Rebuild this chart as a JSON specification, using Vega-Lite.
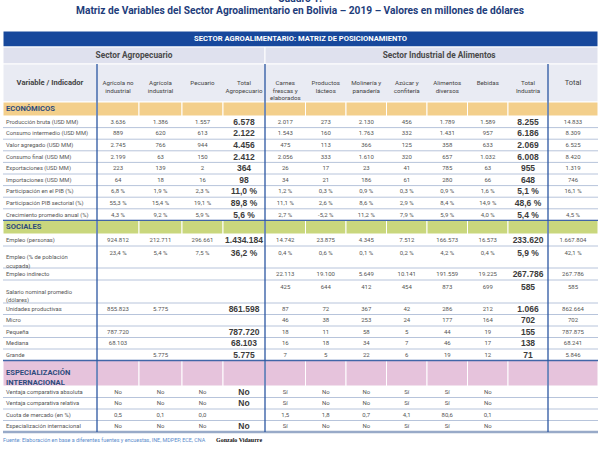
{
"$schema":"https://vega.github.io/schema/vega-lite/v6.json",
"width":600,"height":420,
"autosize":{"type":"none"},
"padding":{"top":31,"left":0,"right":0,"bottom":0},
"background":"white",
"config":{"view":{"stroke":null},"font":"Roboto"},
"title":{"text":["Cuadro 1.","Matriz de Variables del Sector Agroalimentario en Bolivia – 2019 – Valores en millones de dólares"],"anchor":"middle","frame":"group","baseline":"bottom","offset":4,"font":"Roboto","fontSize":10.2,"fontWeight":"bold","color":"#1e3d7b","lineHeight":12},
"datasets":{
"cols":[
{"key":"label","ci":0,"head":"Variable / Indicador"},
{"key":"a1","ci":1,"head":"Agrícola no\nindustrial"},
{"key":"a2","ci":2,"head":"Agrícola\nindustrial"},
{"key":"a3","ci":3,"head":"Pecuario"},
{"key":"a4","ci":4,"head":"Total\nAgropecuario"},
{"key":"i1","ci":5,"head":"Carnes\nfrescas y\nelaborados"},
{"key":"i2","ci":6,"head":"Productos\nlácteos"},
{"key":"i3","ci":7,"head":"Molinería y\npanadería"},
{"key":"i4","ci":8,"head":"Azúcar y\nconfitería"},
{"key":"i5","ci":9,"head":"Alimentos\ndiversos"},
{"key":"i6","ci":10,"head":"Bebidas"},
{"key":"i7","ci":11,"head":"Total\nIndustria"},
{"key":"t","ci":12,"head":"Total"}
],
"bands":[
{"kind":"top","xa":0,"xb":13,"ya":0,"yb":1,"label":"SECTOR AGROALIMENTARIO: MATRIZ DE POSICIONAMIENTO"},
{"kind":"sec","xa":0,"xb":5,"ya":1,"yb":2,"label":"Sector Agropecuario"},
{"kind":"sec","xa":5,"xb":13,"ya":1,"yb":2,"label":"Sector Industrial de Alimentos"},
{"kind":"head","xa":0,"xb":13,"ya":2,"yb":3,"label":""}
],
"notes":[
{"kind":"src","t":"Fuente: Elaboración en base a diferentes fuentes y encuestas, INE, MDPEP, ECE, CNA"},
{"kind":"auth","t":"Gonzalo Vidaurre"}
],
"table":[
{"r":3,"kind":"eco","label":"ECONÓMICOS"},
{"r":4,"kind":"d","label":"Producción bruta (USD MM)","a1":"3.636","a2":"1.386","a3":"1.557","a4":"6.578","i1":"2.017","i2":"273","i3":"2.130","i4":"456","i5":"1.789","i6":"1.589","i7":"8.255","t":"14.833"},
{"r":5,"kind":"d","label":"Consumo intermedio (USD MM)","a1":"889","a2":"620","a3":"613","a4":"2.122","i1":"1.543","i2":"160","i3":"1.763","i4":"332","i5":"1.431","i6":"957","i7":"6.186","t":"8.309"},
{"r":6,"kind":"d","label":"Valor agregado (USD MM)","a1":"2.745","a2":"766","a3":"944","a4":"4.456","i1":"475","i2":"113","i3":"366","i4":"125","i5":"358","i6":"633","i7":"2.069","t":"6.525"},
{"r":7,"kind":"d","label":"Consumo final (USD MM)","a1":"2.199","a2":"63","a3":"150","a4":"2.412","i1":"2.056","i2":"333","i3":"1.610","i4":"320","i5":"657","i6":"1.032","i7":"6.008","t":"8.420"},
{"r":8,"kind":"d","label":"Exportaciones (USD MM)","a1":"223","a2":"139","a3":"2","a4":"364","i1":"26","i2":"17","i3":"23","i4":"41","i5":"785","i6":"63","i7":"955","t":"1.319"},
{"r":9,"kind":"d","label":"Importaciones (USD MM)","a1":"64","a2":"18","a3":"16","a4":"98","i1":"34","i2":"21","i3":"186","i4":"61","i5":"280","i6":"66","i7":"648","t":"746"},
{"r":10,"kind":"d","label":"Participación en el PIB (%)","a1":"6,8 %","a2":"1,9 %","a3":"2,3 %","a4":"11,0 %","i1":"1,2 %","i2":"0,3 %","i3":"0,9 %","i4":"0,3 %","i5":"0,9 %","i6":"1,6 %","i7":"5,1 %","t":"16,1 %"},
{"r":11,"kind":"d","label":"Participación PIB sectorial (%)","a1":"55,3 %","a2":"15,4 %","a3":"19,1 %","a4":"89,8 %","i1":"11,1 %","i2":"2,6 %","i3":"8,6 %","i4":"2,9 %","i5":"8,4 %","i6":"14,9 %","i7":"48,6 %","t":""},
{"r":12,"kind":"d","label":"Crecimiento promedio anual (%)","a1":"4,3 %","a2":"9,2 %","a3":"5,9 %","a4":"5,6 %","i1":"2,7 %","i2":"-5,2 %","i3":"11,2 %","i4":"7,9 %","i5":"5,9 %","i6":"4,0 %","i7":"5,4 %","t":"4,5 %"},
{"r":13,"kind":"soc","label":"SOCIALES"},
{"r":14,"kind":"d","label":"Empleo (personas)","a1":"924.812","a2":"212.711","a3":"296.661","a4":"1.434.184","i1":"14.742","i2":"23.875","i3":"4.345","i4":"7.512","i5":"166.573","i6":"16.573","i7":"233.620","t":"1.667.804"},
{"r":15,"kind":"d","label":"Empleo (% de población\nocupada)","a1":"23,4 %","a2":"5,4 %","a3":"7,5 %","a4":"36,2 %","i1":"0,4 %","i2":"0,6 %","i3":"0,1 %","i4":"0,2 %","i5":"4,2 %","i6":"0,4 %","i7":"5,9 %","t":"42,1 %"},
{"r":16,"kind":"d","label":"Empleo indirecto","a1":"","a2":"","a3":"","a4":"","i1":"22.113","i2":"19.100","i3":"5.649","i4":"10.141","i5":"191.559","i6":"19.225","i7":"267.786","t":"267.786"},
{"r":17,"kind":"d","label":"Salario nominal promedio\n(dólares)","a1":"","a2":"","a3":"","a4":"","i1":"425","i2":"644","i3":"412","i4":"454","i5":"873","i6":"699","i7":"585","t":"585"},
{"r":18,"kind":"d","label":"Unidades productivas","a1":"855.823","a2":"5.775","a3":"","a4":"861.598","i1":"87","i2":"72","i3":"367","i4":"42","i5":"286","i6":"212","i7":"1.066","t":"862.664"},
{"r":19,"kind":"d","label":"Micro","a1":"","a2":"","a3":"","a4":"","i1":"46","i2":"38","i3":"253","i4":"24","i5":"177","i6":"164","i7":"702","t":"702"},
{"r":20,"kind":"d","label":"Pequeña","a1":"787.720","a2":"","a3":"","a4":"787.720","i1":"18","i2":"11","i3":"58","i4":"5","i5":"44","i6":"19","i7":"155","t":"787.875"},
{"r":21,"kind":"d","label":"Mediana","a1":"68.103","a2":"","a3":"","a4":"68.103","i1":"16","i2":"18","i3":"34","i4":"7","i5":"46","i6":"17","i7":"138","t":"68.241"},
{"r":22,"kind":"d","label":"Grande","a1":"","a2":"5.775","a3":"","a4":"5.775","i1":"7","i2":"5","i3":"22","i4":"6","i5":"19","i6":"12","i7":"71","t":"5.846"},
{"r":23,"kind":"esp","label":"ESPECIALIZACIÓN\nINTERNACIONAL"},
{"r":24,"kind":"d","label":"Ventaja comparativa absoluta","a1":"No","a2":"No","a3":"No","a4":"No","i1":"Sí","i2":"No","i3":"No","i4":"Sí","i5":"Sí","i6":"No","i7":"","t":""},
{"r":25,"kind":"d","label":"Ventaja comparativa relativa","a1":"No","a2":"No","a3":"No","a4":"No","i1":"Sí","i2":"No","i3":"No","i4":"Sí","i5":"Sí","i6":"No","i7":"","t":""},
{"r":26,"kind":"d","label":"Cuota de mercado (en %)","a1":"0,5","a2":"0,1","a3":"0,0","a4":"","i1":"1,5","i2":"1,8","i3":"0,7","i4":"4,1","i5":"80,6","i6":"0,1","i7":"","t":""},
{"r":27,"kind":"d","label":"Especialización internacional","a1":"No","a2":"No","a3":"No","a4":"No","i1":"Sí","i2":"No","i3":"No","i4":"Sí","i5":"Sí","i6":"No","i7":"","t":""}
]
},
"encoding":{
"x":{"field":"xa","type":"quantitative","axis":null,"scale":{"domain":[0,1,2,3,4,5,6,7,8,9,10,11,12,13],"range":[3,97,139,182,223,265,305.5,346,386.5,427,467.5,508,548,598],"nice":false,"zero":false}},
"y":{"field":"ya","type":"quantitative","axis":null,"scale":{"domain":[0,1,2,3,4,5,6,7,8,9,10,11,12,13,14,15,16,17,18,19,20,21,22,23,24,25,26,27,28,29],"range":[0,16,33,71,85,96.6,108.2,119.8,131.4,143,154.6,166.2,177.8,189.4,203,215,237,249,272,283.5,295,306.5,318,329.5,355,366.5,378,389.5,401,409],"nice":false,"zero":false}}
},
"layer":[
{"data":{"name":"bands"},"mark":{"type":"rect","stroke":"#ffffff","strokeWidth":1},
 "encoding":{"x2":{"field":"xb"},"y2":{"field":"yb"},"fill":{"field":"kind","type":"nominal","legend":null,"scale":{"domain":["top","sec","head","eco","soc","esp"],"range":["#17489c","#dfe1ee","#e9ebf3","#f3cf8b","#c9d77d","#e6c3dc"]}}}},
{"data":{"name":"table"},"transform":[{"filter":"datum.kind != 'd'"},{"fold":["label","a1","a2","a3","a4","i1","i2","i3","i4","i5","i6","i7","t"],"as":["key","val"]},{"lookup":"key","from":{"data":{"name":"cols"},"key":"key","fields":["ci"]}},{"calculate":"datum.ci","as":"xa"},{"calculate":"datum.ci+1","as":"xb"},{"calculate":"datum.r","as":"ya"},{"calculate":"datum.r+1","as":"yb"}],
 "mark":{"type":"rect","stroke":"#ffffff","strokeWidth":1},
 "encoding":{"x2":{"field":"xb"},"y2":{"field":"yb"},"fill":{"field":"kind","type":"nominal","legend":null,"scale":{"domain":["top","sec","head","eco","soc","esp"],"range":["#17489c","#dfe1ee","#e9ebf3","#f3cf8b","#c9d77d","#e6c3dc"]}}}},
{"data":{"name":"table"},"transform":[{"filter":"datum.kind == 'd' && datum.r < 27"},{"calculate":"0","as":"xa"},{"calculate":"13","as":"xb"},{"calculate":"datum.r+1","as":"ya"}],
 "mark":{"type":"rule","stroke":"#b7c4db","strokeWidth":1},"encoding":{"x2":{"field":"xb"}}},
{"data":{"name":"table"},"transform":[{"filter":"datum.kind == 'soc' || datum.kind == 'esp'"},{"calculate":"0","as":"xa"},{"calculate":"13","as":"xb"},{"calculate":"datum.r","as":"ya"}],
 "mark":{"type":"rule","stroke":"#4166a8","strokeWidth":1.3},"encoding":{"x2":{"field":"xb"}}},
{"data":{"name":"table"},"transform":[{"filter":"datum.r == 27"},{"calculate":"0","as":"xa"},{"calculate":"13","as":"xb"},{"calculate":"datum.r+1","as":"ya"}],
 "mark":{"type":"rule","stroke":"#98aac8","strokeWidth":2.5},"encoding":{"x2":{"field":"xb"}}},
{"data":{"name":"cols"},"transform":[{"filter":"datum.ci == 1 || datum.ci == 5 || datum.ci == 12"},{"calculate":"datum.ci","as":"xa"},{"calculate":"2","as":"ya"},{"calculate":"28","as":"yb"}],
 "mark":{"type":"rule","stroke":"#2b56a1","strokeWidth":1.3},"encoding":{"y2":{"field":"yb"}}},
{"data":{"name":"bands"},"transform":[{"filter":"datum.kind == 'top'"},{"calculate":"5.877","as":"xa"},{"calculate":"datum.ya+0.5","as":"ya"}],
 "mark":{"type":"text","color":"#ffffff","fontWeight":"bold","fontSize":7.6,"baseline":"middle","align":"center"},"encoding":{"text":{"field":"label","type":"nominal"}}},
{"data":{"name":"bands"},"transform":[{"filter":"datum.kind == 'sec'"},{"calculate":"datum.xa == 0 ? 1.881 : 9.3","as":"xa"},{"calculate":"datum.ya+0.5","as":"ya"}],
 "mark":{"type":"text","color":"#4a4a4a","fontWeight":"bold","fontSize":8.3,"baseline":"middle","align":"center"},"encoding":{"text":{"field":"label","type":"nominal"}}},
{"data":{"name":"cols"},"transform":[{"filter":"datum.ci == 0"},{"calculate":"datum.ci+0.5","as":"xa"},{"calculate":"2.5","as":"ya"}],
 "mark":{"type":"text","color":"#444444","fontWeight":"bold","fontSize":7.6,"baseline":"middle","align":"center"},"encoding":{"text":{"field":"head","type":"nominal"}}},
{"data":{"name":"cols"},"transform":[{"filter":"datum.ci >= 1 && datum.ci <= 11"},{"calculate":"datum.ci+0.5","as":"xa"},{"calculate":"2.5","as":"ya"}],
 "mark":{"type":"text","color":"#444444","fontSize":6.2,"lineHeight":7.6,"lineBreak":"\n","baseline":"middle","align":"center"},"encoding":{"text":{"field":"head","type":"nominal"}}},
{"data":{"name":"cols"},"transform":[{"filter":"datum.ci == 12"},{"calculate":"datum.ci+0.5","as":"xa"},{"calculate":"2.5","as":"ya"}],
 "mark":{"type":"text","color":"#444444","fontSize":7.5,"baseline":"middle","align":"center"},"encoding":{"text":{"field":"head","type":"nominal"}}},
{"data":{"name":"table"},"transform":[{"filter":"datum.kind != 'd'"},{"calculate":"0","as":"xa"},{"calculate":"datum.r+0.5","as":"ya"}],
 "mark":{"type":"text","color":"#2d4b7c","fontWeight":"bold","fontSize":7.6,"lineHeight":10,"lineBreak":"\n","baseline":"middle","align":"left","dx":3},"encoding":{"text":{"field":"label","type":"nominal"}}},
{"data":{"name":"table"},"transform":[{"filter":"datum.kind == 'd'"},{"calculate":"0","as":"xa"},{"calculate":"datum.r+0.5","as":"ya"}],
 "mark":{"type":"text","color":"#555555","fontSize":5.8,"lineHeight":8.5,"lineBreak":"\n","baseline":"middle","align":"left","dx":3},"encoding":{"text":{"field":"label","type":"nominal"}}},
{"data":{"name":"table"},"transform":[{"filter":"datum.kind == 'd'"},{"fold":["a1","a2","a3","i1","i2","i3","i4","i5","i6","t"],"as":["key","val"]},{"filter":"datum.val != null && datum.val != ''"},{"lookup":"key","from":{"data":{"name":"cols"},"key":"key","fields":["ci"]}},{"calculate":"datum.ci+0.5","as":"xa"},{"calculate":"datum.r + (indexof(datum.label, '\\n') >= 0 ? 0.3 : 0.5)","as":"ya"}],
 "mark":{"type":"text","color":"#555555","fontSize":6,"baseline":"middle","align":"center"},"encoding":{"text":{"field":"val","type":"nominal"}}},
{"data":{"name":"table"},"transform":[{"filter":"datum.kind == 'd'"},{"fold":["a4","i7"],"as":["key","val"]},{"filter":"datum.val != null && datum.val != ''"},{"lookup":"key","from":{"data":{"name":"cols"},"key":"key","fields":["ci"]}},{"calculate":"datum.ci+0.5","as":"xa"},{"calculate":"datum.r + (indexof(datum.label, '\\n') >= 0 ? 0.3 : 0.5)","as":"ya"}],
 "mark":{"type":"text","font":"Liberation Sans","fontWeight":"bold","color":"#3c3c3c","fontSize":8.5,"baseline":"middle","align":"center"},"encoding":{"text":{"field":"val","type":"nominal"}}},
{"data":{"name":"notes"},"transform":[{"filter":"datum.kind == 'src'"},{"calculate":"0","as":"xa"},{"calculate":"29","as":"ya"}],
 "mark":{"type":"text","color":"#5a8ccc","fontSize":5.4,"baseline":"middle","align":"left"},"encoding":{"text":{"field":"t","type":"nominal"}}},
{"data":{"name":"notes"},"transform":[{"filter":"datum.kind == 'auth'"},{"calculate":"3.83","as":"xa"},{"calculate":"29","as":"ya"}],
 "mark":{"type":"text","font":"Liberation Serif","fontWeight":"bold","color":"#111111","fontSize":6,"baseline":"middle","align":"left"},"encoding":{"text":{"field":"t","type":"nominal"}}}
]
}
